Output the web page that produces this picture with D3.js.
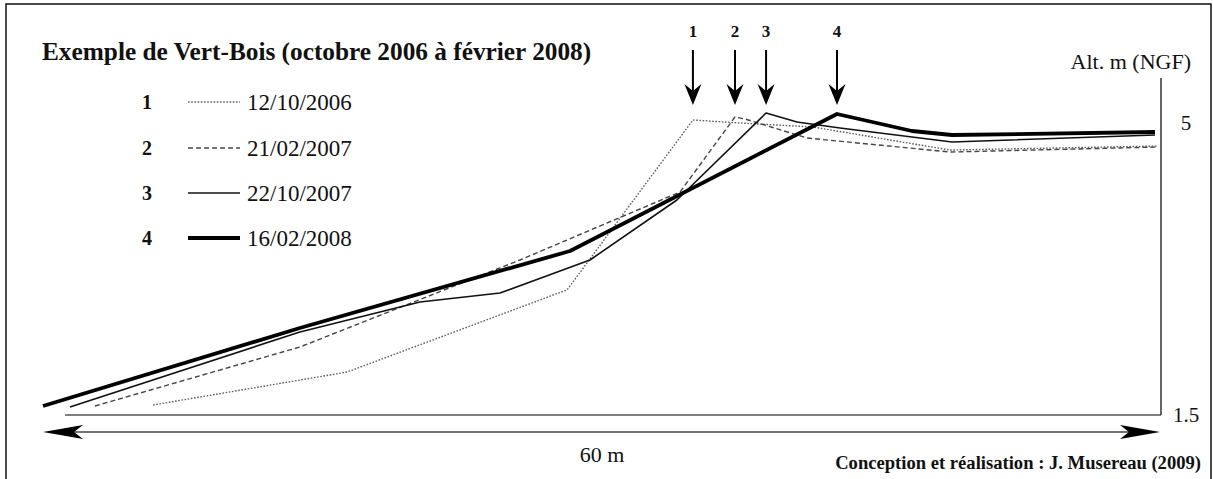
<!DOCTYPE html>
<html><head><meta charset="utf-8">
<script src="https://cdn.jsdelivr.net/npm/d3@7"></script>
<style>
body{margin:0;background:#fff}
svg{display:block}
text{font-family:"Liberation Serif","Times New Roman",serif;fill:#111}
</style>
</head><body>
<svg id="chart" width="1213" height="479"></svg>
<script>
// ---- data ----
const seriesIds = ["1", "2", "3", "4"];
const seriesDates = ["12/10/2006", "21/02/2007", "22/10/2007", "16/02/2008"];

// distance along profile (m) and altitude (m NGF)
const dist1 = [5.91, 16.33, 28.15, 34.91, 37.44, 41.36, 48.72, 59.89];
const alt1  = [1.62, 2.015, 3.00, 5.036, 5.00, 4.952, 4.676, 4.724];

const dist2 = [2.79, 13.80, 25.62, 34.22, 37.17, 37.71, 41.04, 48.72, 59.89];
const alt2  = [1.608, 2.315, 3.358, 4.173, 5.072, 5.048, 4.82, 4.652, 4.712];

const dist3 = [1.45, 13.80, 20.25, 24.55, 29.38, 34.05, 38.84, 40.50, 42.81, 48.83, 59.73];
const alt3  = [1.596, 2.495, 2.854, 2.962, 3.358, 4.077, 5.12, 5.012, 4.94, 4.772, 4.856];

const dist4 = [0.0, 13.80, 28.31, 42.65, 46.68, 48.83, 59.73];
const alt4  = [1.608, 2.543, 3.466, 5.108, 4.904, 4.856, 4.892];

const altTicks = [1.5, 5];
const profileLength = 60;

const title = "Exemple de Vert-Bois (octobre 2006 à février 2008)";
const axisTitle = "Alt. m (NGF)";
const lengthLabel = "60 m";
const credit = "Conception et réalisation : J. Musereau (2009)";

// ---- chart ----
const svg = d3.select("#chart");
const x = d3.scaleLinear().domain([0, profileLength]).range([43, 1160]);
const y = d3.scaleLinear().domain([1.5, 5]).range([415, 123]);

const styles = [
  {stroke: "#5e5e5e", width: 1.4, dash: "1.6,1.6"},
  {stroke: "#444", width: 1.4, dash: "5,3"},
  {stroke: "#111", width: 1.6, dash: null},
  {stroke: "#000", width: 3.8, dash: null}
];

const series = [
  d3.zip(dist1, alt1), d3.zip(dist2, alt2), d3.zip(dist3, alt3), d3.zip(dist4, alt4)
];

// frame
svg.append("path").attr("d", "M6,479V4H1211V479")
  .attr("fill", "none").attr("stroke", "#111").attr("stroke-width", 1.5);

// plot box (bottom + right axis)
svg.append("line").attr("x1", 65).attr("x2", x(profileLength) + 1)
  .attr("y1", y(1.5)).attr("y2", y(1.5)).attr("stroke", "#555").attr("stroke-width", 1.5);
svg.append("line").attr("x1", x(profileLength) + 1).attr("x2", x(profileLength) + 1)
  .attr("y1", 78).attr("y2", y(1.5)).attr("stroke", "#333").attr("stroke-width", 1.5);

const yAxis = svg.append("g").attr("transform", `translate(${x(profileLength) + 1},0)`)
  .call(d3.axisRight(y).tickValues(altTicks).tickSize(0).tickFormat(d3.format("")));
yAxis.select(".domain").remove();
yAxis.selectAll("text").attr("x", 25).attr("text-anchor", "middle")
  .style("font-family", '"Liberation Serif","Times New Roman",serif')
  .style("font-size", "21px").attr("fill", "#222");

svg.append("text").attr("x", 1191).attr("y", 69).attr("text-anchor", "end")
  .style("font-size", "22px").text(axisTitle);

// profiles
const line = d3.line().x(d => x(d[0])).y(d => y(d[1]));
series.forEach((s, i) => {
  svg.append("path").datum(s).attr("d", line)
    .attr("fill", "none").attr("stroke", styles[i].stroke)
    .attr("stroke-width", styles[i].width)
    .attr("stroke-dasharray", styles[i].dash)
    .attr("stroke-linejoin", "round");
});

// crest arrows
series.forEach((s, i) => {
  const crest = s.reduce((a, b) => (b[1] > a[1] ? b : a));
  const cx = x(crest[0]);
  svg.append("line").attr("x1", cx).attr("x2", cx).attr("y1", 50).attr("y2", 92)
    .attr("stroke", "#000").attr("stroke-width", 2);
  svg.append("path").attr("d", `M${cx},105L${cx - 8.5},84L${cx},91L${cx + 8.5},84Z`)
    .attr("fill", "#000");
  svg.append("text").attr("x", cx).attr("y", 37).attr("text-anchor", "middle")
    .style("font-size", "17px").style("font-weight", "bold").text(seriesIds[i]);
});

// title
svg.append("text").attr("x", 42).attr("y", 60)
  .style("font-size", "25.3px").style("font-weight", "bold").text(title);

// legend
const legY = [102, 148, 193, 238];
seriesIds.forEach((id, i) => {
  const g = svg.append("g").attr("transform", `translate(0,${legY[i]})`);
  g.append("text").attr("x", 147).attr("y", 7).attr("text-anchor", "middle")
    .style("font-size", "20px").style("font-weight", "bold").text(id);
  g.append("line").attr("x1", 188).attr("x2", 240).attr("y1", 0).attr("y2", 0)
    .attr("stroke", styles[i].stroke).attr("stroke-width", styles[i].width)
    .attr("stroke-dasharray", styles[i].dash);
  g.append("text").attr("x", 247).attr("y", 7.5)
    .style("font-size", "23px").attr("fill", "#222").text(seriesDates[i]);
});

// length double arrow
const ay = 432;
svg.append("line").attr("x1", x(0) + 30).attr("x2", x(profileLength) - 30)
  .attr("y1", ay).attr("y2", ay).attr("stroke", "#444").attr("stroke-width", 1.5);
const xl = x(0), xr = x(profileLength);
svg.append("path").attr("d", `M${xl},${ay}L${xl + 40},${ay - 7}L${xl + 31},${ay}L${xl + 40},${ay + 7}Z`).attr("fill", "#000");
svg.append("path").attr("d", `M${xr},${ay}L${xr - 40},${ay - 7}L${xr - 31},${ay}L${xr - 40},${ay + 7}Z`).attr("fill", "#000");

svg.append("text").attr("x", 602).attr("y", 462).attr("text-anchor", "middle")
  .style("font-size", "22px").text(lengthLabel);

svg.append("text").attr("x", 1201).attr("y", 469).attr("text-anchor", "end")
  .style("font-size", "18.6px").style("font-weight", "bold").attr("fill", "#222").text(credit);
</script>
</body></html>
